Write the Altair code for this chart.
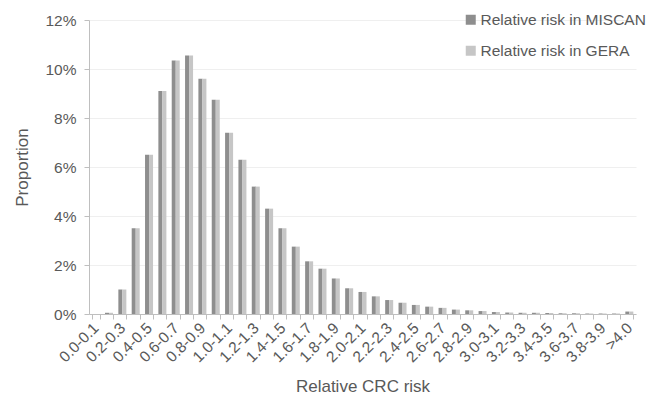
import altair as alt
import pandas as pd

categories = [f"{i/10:.1f}-{(i+1)/10:.1f}" for i in range(40)] + [">4.0"]

miscan = [0.0, 0.05, 1.0, 3.5, 6.5, 9.1, 10.35, 10.55, 9.6, 8.75,
          7.4, 6.3, 5.2, 4.3, 3.5, 2.75, 2.15, 1.85, 1.45, 1.05,
          0.9, 0.72, 0.57, 0.46, 0.37, 0.30, 0.25, 0.18, 0.15, 0.12,
          0.08, 0.06, 0.05, 0.05, 0.04, 0.03, 0.03, 0.02, 0.02, 0.02,
          0.10]
gera = [0.0, 0.05, 1.0, 3.5, 6.5, 9.1, 10.35, 10.55, 9.6, 8.75,
        7.4, 6.3, 5.2, 4.3, 3.5, 2.75, 2.15, 1.85, 1.45, 1.05,
        0.9, 0.72, 0.57, 0.46, 0.37, 0.30, 0.25, 0.18, 0.15, 0.12,
        0.08, 0.06, 0.05, 0.05, 0.04, 0.03, 0.03, 0.02, 0.02, 0.02,
        0.10]
series = ["Relative risk in MISCAN", "Relative risk in GERA"]
colors = ["#8e8e8e", "#c6c6c6"]
y_ticks = [0, 0.02, 0.04, 0.06, 0.08, 0.10, 0.12]

rows = []
for c, a, b in zip(categories, miscan, gera):
    rows.append({"cat": c, "series": series[0], "value": a / 100})
    rows.append({"cat": c, "series": series[1], "value": b / 100})
df = pd.DataFrame(rows)

shown = categories[0::2]
label_expr = "indexof([" + ",".join(f"'{s}'" for s in shown) + "], datum.value) >= 0 ? datum.value : ''"

font = "Liberation Sans"
txt = "#595959"

chart = alt.Chart(df).mark_bar().encode(
    x=alt.X("cat:N", sort=categories, title="Relative CRC risk",
            scale=alt.Scale(paddingInner=0.4, paddingOuter=0.2),
            axis=alt.Axis(labelAngle=-45, labelAlign="right", labelBaseline="middle",
                          labelExpr=label_expr, tickBand="extent", labelOverlap=False,
                          labelFontSize=15.5, labelColor=txt, labelFont=font, labelPadding=6,
                          titleFontSize=17, titleColor=txt, titleFont=font, titleFontWeight="normal",
                          titlePadding=13, domainColor="#bfbfbf", tickColor="#bfbfbf",
                          tickSize=5, grid=False)),
    xOffset=alt.XOffset("series:N", sort=series, scale=alt.Scale(domain=series, paddingInner=0)),
    y=alt.Y("value:Q", title="Proportion",
            scale=alt.Scale(domain=[0, 0.12], nice=False),
            axis=alt.Axis(values=y_ticks, format=".0%", labelFontSize=15.5, labelColor=txt,
                          labelFont=font, labelPadding=8, titleFontSize=17, titleColor=txt,
                          titleFont=font, titleFontWeight="normal", titlePadding=13,
                          domainColor="#bfbfbf", tickColor="#bfbfbf", tickSize=5,
                          gridColor="#efefef")),
    color=alt.Color("series:N", sort=series,
                    scale=alt.Scale(domain=series, range=colors),
                    legend=alt.Legend(title=None, orient="none", legendX=374, legendY=-8,
                                      symbolType="square", symbolSize=100, symbolStrokeWidth=0,
                                      labelFontSize=15.5, labelColor=txt, labelFont=font,
                                      labelOffset=2, rowPadding=14, labelLimit=0)),
).properties(
    width=547, height=294,
    autosize=alt.AutoSizeParams(type="none"),
    padding={"left": 81, "top": 12, "right": 10, "bottom": 81},
).configure_view(stroke=None)

chart.save("out.html", embed_options={"renderer": "svg", "actions": False})
